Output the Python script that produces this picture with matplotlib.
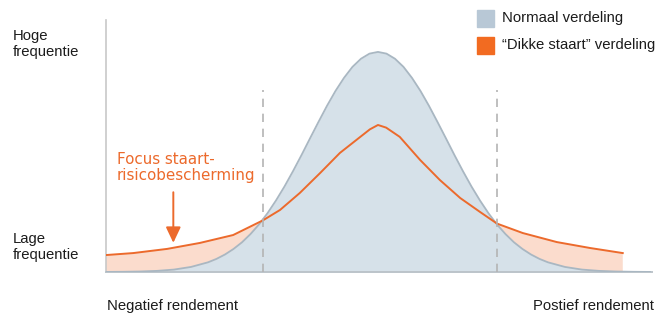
import matplotlib.pyplot as plt
from matplotlib.patches import Rectangle

# rendement (in standaarddeviaties) en frequentie (top normaal = 100)
x_normaal = [-4.0, -3.75, -3.5, -3.25, -3.0, -2.75, -2.5, -2.375, -2.25, -2.125, -2.0, -1.875,
             -1.75, -1.625, -1.5, -1.375, -1.25, -1.125, -1.0, -0.875, -0.75, -0.625, -0.5,
             -0.375, -0.25, -0.125, 0.0, 0.125, 0.25, 0.375, 0.5, 0.625, 0.75, 0.875, 1.0,
             1.125, 1.25, 1.375, 1.5, 1.625, 1.75, 1.875, 2.0, 2.125, 2.25, 2.375, 2.5,
             2.75, 3.0, 3.25, 3.5, 3.75, 4.0]
y_normaal = [0.03, 0.09, 0.22, 0.51, 1.1, 2.3, 4.4, 5.96, 7.96, 10.46, 13.5, 17.24,
             21.6, 26.71, 32.5, 38.86, 45.8, 53.11, 60.7, 68.19, 75.5, 82.26, 88.2,
             93.21, 96.9, 99.22, 100.0, 99.22, 96.9, 93.21, 88.2, 82.26, 75.5, 68.19, 60.7,
             53.11, 45.8, 38.86, 32.5, 26.71, 21.6, 17.24, 13.5, 10.46, 7.96, 5.96, 4.4,
             2.3, 1.1, 0.51, 0.22, 0.09, 0.03]

x_dik = [-4.0, -3.6, -3.1, -2.62, -2.13, -1.69, -1.44, -1.15, -0.85, -0.56, -0.26, -0.12,
         0.0, 0.12, 0.32, 0.62, 0.91, 1.21, 1.5, 1.75, 2.13, 2.63, 3.12, 3.6]
y_dik = [7.7, 8.6, 10.5, 13.2, 16.8, 23.5, 28.2, 35.9, 45.0, 54.1, 61.4, 64.8,
         66.8, 65.6, 61.4, 50.9, 41.8, 33.6, 27.3, 22.0, 17.7, 13.6, 10.9, 8.6]

grenzen = [-1.69, 1.75]

blauw_lijn = '#a9b7c2'
blauw_vlak = '#d6e1e9'
oranje = '#ec6a2c'
oranje_vlak = '#fbdccd'
tekst = '#1c1c1c'

plt.rcParams['font.family'] = ['Liberation Sans', 'DejaVu Sans']

fig = plt.figure(figsize=(6.63, 3.14), dpi=100)
ax = fig.add_axes([106 / 663, 42 / 314, 546 / 663, 252 / 314])

# oranje staarten eerst, daarna de normale verdeling er overheen
staart = [(v <= grenzen[0]) or (v >= grenzen[1]) for v in x_dik]
ax.fill_between(x_dik, y_dik, where=staart, color=oranje_vlak, lw=0, zorder=1)
ax.fill_between(x_normaal, y_normaal, color=blauw_vlak, lw=0, zorder=2)
ax.plot(x_normaal, y_normaal, color=blauw_lijn, lw=1.3, zorder=3)
ax.plot(x_dik, y_dik, color=oranje, lw=1.4, zorder=4, solid_joinstyle='round')

for g in grenzen:
    ax.plot([g, g], [0, 82.7], color='#b4b4b4', lw=1.2, ls=(0, (5, 4)), zorder=5)

ax.annotate('', xy=(-3.01, 12.0), xytext=(-3.01, 37.5),
            arrowprops=dict(arrowstyle='-|>,head_width=0.45,head_length=0.95',
                            color=oranje, lw=1.4))
ax.text(-3.84, 47.5, 'Focus staart-\nrisicobescherming', color=oranje, fontsize=10.9,
        va='center', ha='left', linespacing=1.12, family='DejaVu Sans')

ax.set_xlim(-4.0, 4.03)
ax.set_ylim(0, 114.5)
ax.set_xticks([])
ax.set_yticks([])
for s in ['top', 'right']:
    ax.spines[s].set_visible(False)
ax.spines['left'].set_color('#c8c8c8')
ax.spines['bottom'].set_color('#bcc4ca')
ax.spines['left'].set_linewidth(1.2)
ax.spines['bottom'].set_linewidth(1.4)

fs = 10.7
fig.text(13 / 663, 1 - 44 / 314, 'Hoge\nfrequentie', fontsize=fs, va='center', ha='left',
         linespacing=1.2, color=tekst)
fig.text(13 / 663, 1 - 247 / 314, 'Lage\nfrequentie', fontsize=fs, va='center', ha='left',
         linespacing=1.2, color=tekst)
fig.text(107 / 663, 1 - 306 / 314, 'Negatief rendement', fontsize=fs, va='center', ha='left',
         color=tekst)
fig.text(654 / 663, 1 - 306 / 314, 'Postief rendement', fontsize=fs, va='center', ha='right',
         color=tekst)

# legenda
fig.patches.append(Rectangle((477 / 663, 1 - 27 / 314), 17 / 663, 17 / 314,
                             transform=fig.transFigure, color='#b8c8d6'))
fig.text(502 / 663, 1 - 18 / 314, 'Normaal verdeling', fontsize=fs, va='center', ha='left',
         color=tekst)
fig.patches.append(Rectangle((477 / 663, 1 - 54 / 314), 17 / 663, 17 / 314,
                             transform=fig.transFigure, color='#f26b21'))
fig.text(502 / 663, 1 - 45 / 314, '\u201cDikke staart\u201d verdeling', fontsize=fs,
         va='center', ha='left', color=tekst)

fig.savefig('out.png', dpi=100)
